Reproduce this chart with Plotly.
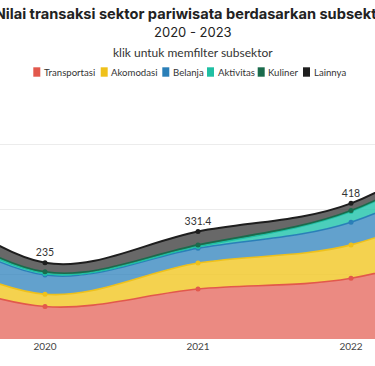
import plotly.graph_objects as go

# ---- data ----
years = [2019, 2020, 2021, 2022, 2023]
tick_labels = ["2019", "2020", "2021", "2022", "2023"]
series_names = ["Transportasi", "Akomodasi", "Belanja", "Aktivitas", "Kuliner", "Lainnya"]
transportasi = [230, 100, 154, 187, 320]
akomodasi = [90, 38, 80, 103, 160]
belanja = [100, 59, 46, 70, 110]
aktivitas = [15, 5, 5, 33, 55]
kuliner = [10, 5, 5, 3, 10]
lainnya = [75, 28, 41.4, 22, 45]

title_text = "Nilai transaksi sektor pariwisata berdasarkan subsektor"
subtitle_text = "2020 - 2023"
hint_text = "klik untuk memfilter subsektor"

# ---- styles ----
line_colors = ["#e2584c", "#efc11a", "#2a7fb8", "#1fbfa3", "#1a6b4c", "#1e1e1e"]
fill_colors = ["rgba(231,112,102,0.82)", "rgba(242,200,40,0.82)", "rgba(45,130,188,0.75)",
               "rgba(30,195,170,0.8)", "rgba(26,107,76,0.8)", "rgba(40,40,40,0.7)"]

W, H = 375, 366
MT, MB = 85, 27
plot_h = H - MT - MB
px_per_unit = 0.3245


def py(p):
    """pixel y (from top) -> paper y"""
    return (H - MB - p) / plot_h


all_series = [transportasi, akomodasi, belanja, aktivitas, kuliner, lainnya]
totals = [round(sum(v[i] for v in all_series), 1) for i in range(len(years))]
total_labels = ["{:g}".format(t) for t in totals]

fig = go.Figure()
for name, vals, lc, fc in zip(series_names, all_series, line_colors, fill_colors):
    is_top = name == "Lainnya"
    fig.add_trace(go.Scatter(
        x=years, y=vals, name=name, stackgroup="one",
        mode="lines+markers+text" if is_top else "lines+markers",
        line=dict(color=lc, width=2 if is_top else 1.6, shape="spline", smoothing=1.0),
        marker=dict(color=lc, size=5),
        fillcolor=fc,
        text=total_labels if is_top else None,
        textposition="top center",
        textfont=dict(family="Lato", size=10.5, color="#333"),
        showlegend=False,
        legendgroup=name,
    ))

fig.update_xaxes(
    range=[2020 - 45 / 153, 2022 + 24 / 153],
    tickvals=years, ticktext=tick_labels,
    showgrid=False, zeroline=False, showline=False, ticks="",
    tickfont=dict(family="Lato", size=10, color="#444"),
)
fig.update_yaxes(
    range=[0, plot_h / px_per_unit], dtick=200,
    showticklabels=False, gridcolor="#ececec", gridwidth=1,
    zeroline=False, showline=False,
)

annotations = [
    dict(text=subtitle_text, x=193 / W, y=py(32), xref="paper", yref="paper",
         showarrow=False, xanchor="center", yanchor="middle",
         font=dict(family="Inter", size=13, color="#222")),
    dict(text=hint_text, x=193 / W, y=py(52), xref="paper", yref="paper",
         showarrow=False, xanchor="center", yanchor="middle",
         font=dict(family="Lato", size=12, color="#333")),
]
shapes = []
legend_sq_left = [33.3, 100.7, 162.3, 207, 257.7, 303]
for name, lc, sx in zip(series_names, line_colors, legend_sq_left):
    shapes.append(dict(type="rect", xref="paper", yref="paper",
                       x0=sx / W, x1=(sx + 7) / W, y0=py(76.7), y1=py(67.3),
                       fillcolor=lc, line=dict(width=0)))
    annotations.append(dict(text=name, x=(sx + 8.5) / W, y=py(72), xref="paper", yref="paper",
                            showarrow=False, xanchor="left", yanchor="middle",
                            font=dict(family="Lato", size=9.6, color="#333")))

fig.update_layout(
    width=W, height=H,
    margin=dict(l=0, r=0, t=MT, b=MB),
    paper_bgcolor="white", plot_bgcolor="white",
    title=dict(text="<b>" + title_text + "</b>", x=193 / W, xanchor="center",
               y=1 - 13.5 / H, yanchor="middle", xref="paper", yref="container",
               font=dict(family="Inter", size=14.6, color="#222")),
    annotations=annotations, shapes=shapes,
    showlegend=False,
)

fig.write_html("out.html",
               config={"displayModeBar": False},
               post_script="document.body.style.margin='0';document.body.style.overflow='hidden';")
